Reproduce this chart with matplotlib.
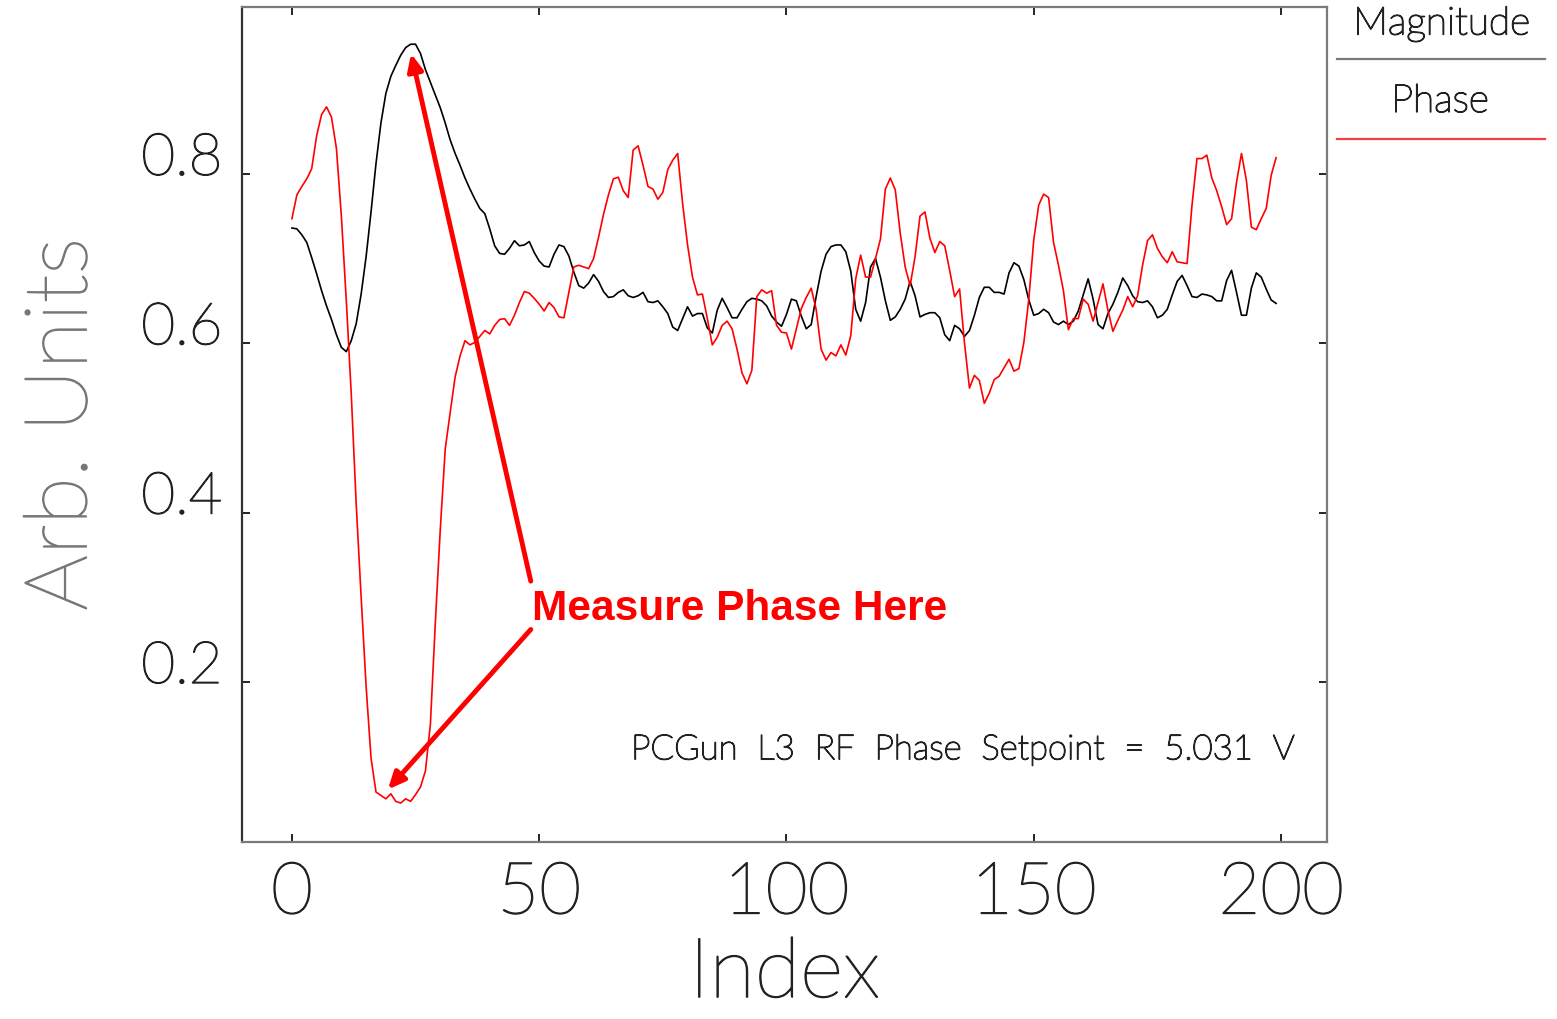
import matplotlib
matplotlib.use('Agg')
import matplotlib.pyplot as plt
import matplotlib.transforms as mtransforms
import matplotlib.patheffects as pe
from matplotlib.lines import Line2D
import numpy as np

# waveform samples from the scope trace
index = np.arange(200)

magnitude = [
    0.736, 0.735, 0.728, 0.719, 0.701, 0.682, 0.662, 0.644, 0.628, 0.610,
    0.595, 0.590, 0.603, 0.623, 0.658, 0.702, 0.755, 0.812, 0.860, 0.895,
    0.915, 0.928, 0.940, 0.949, 0.953, 0.953, 0.942, 0.923, 0.908, 0.893,
    0.878, 0.860, 0.840, 0.824, 0.810, 0.795, 0.782, 0.770, 0.759, 0.753,
    0.735, 0.715, 0.706, 0.705, 0.712, 0.721, 0.715, 0.716, 0.720, 0.707,
    0.697, 0.691, 0.690, 0.705, 0.716, 0.714, 0.703, 0.684, 0.668, 0.665,
    0.671, 0.681, 0.673, 0.661, 0.654, 0.655, 0.660, 0.663, 0.656, 0.654,
    0.656, 0.660, 0.649, 0.648, 0.650, 0.643, 0.635, 0.619, 0.615, 0.629,
    0.643, 0.632, 0.635, 0.635, 0.618, 0.612, 0.639, 0.653, 0.642, 0.630,
    0.630, 0.640, 0.649, 0.653, 0.652, 0.650, 0.644, 0.632, 0.625, 0.620,
    0.634, 0.652, 0.650, 0.632, 0.617, 0.622, 0.655, 0.685, 0.705, 0.714,
    0.716, 0.716, 0.708, 0.685, 0.640, 0.626, 0.648, 0.690, 0.700, 0.678,
    0.650, 0.627, 0.631, 0.640, 0.652, 0.673, 0.656, 0.631, 0.634, 0.636,
    0.636, 0.630, 0.610, 0.603, 0.621, 0.617, 0.608, 0.615, 0.633, 0.654,
    0.666, 0.666, 0.660, 0.660, 0.658, 0.683, 0.695, 0.691, 0.675, 0.651,
    0.633, 0.635, 0.640, 0.636, 0.625, 0.622, 0.626, 0.622, 0.626, 0.638,
    0.657, 0.676, 0.652, 0.622, 0.617, 0.635, 0.646, 0.660, 0.677, 0.668,
    0.656, 0.649, 0.648, 0.650, 0.643, 0.630, 0.633, 0.640, 0.657, 0.673,
    0.680, 0.668, 0.655, 0.654, 0.658, 0.657, 0.655, 0.650, 0.650, 0.674,
    0.686, 0.660, 0.633, 0.633, 0.665, 0.683, 0.678, 0.664, 0.651, 0.647,
]

phase = [
    0.747, 0.775, 0.785, 0.794, 0.806, 0.845, 0.870, 0.879, 0.867, 0.830,
    0.750, 0.650, 0.540, 0.410, 0.300, 0.195, 0.110, 0.070, 0.066, 0.062,
    0.068, 0.059, 0.057, 0.062, 0.059, 0.067, 0.076, 0.095, 0.150, 0.270,
    0.380, 0.475, 0.518, 0.560, 0.585, 0.603, 0.598, 0.601, 0.608, 0.615,
    0.611, 0.621, 0.628, 0.629, 0.621, 0.633, 0.648, 0.661, 0.659, 0.653,
    0.646, 0.638, 0.648, 0.642, 0.631, 0.630, 0.660, 0.690, 0.692, 0.690,
    0.688, 0.700, 0.725, 0.752, 0.775, 0.794, 0.796, 0.780, 0.772, 0.828,
    0.833, 0.810, 0.785, 0.782, 0.770, 0.778, 0.805, 0.816, 0.824, 0.765,
    0.716, 0.678, 0.657, 0.658, 0.629, 0.598, 0.607, 0.621, 0.626, 0.617,
    0.593, 0.565, 0.552, 0.568, 0.655, 0.663, 0.659, 0.662, 0.621, 0.613,
    0.612, 0.593, 0.617, 0.641, 0.654, 0.665, 0.640, 0.593, 0.580, 0.589,
    0.585, 0.598, 0.586, 0.609, 0.676, 0.704, 0.678, 0.678, 0.700, 0.723,
    0.782, 0.795, 0.781, 0.730, 0.690, 0.668, 0.702, 0.750, 0.755, 0.724,
    0.707, 0.720, 0.715, 0.686, 0.655, 0.664, 0.600, 0.547, 0.562, 0.556,
    0.529, 0.541, 0.557, 0.561, 0.571, 0.581, 0.567, 0.570, 0.601, 0.652,
    0.722, 0.763, 0.776, 0.772, 0.719, 0.692, 0.662, 0.616, 0.629, 0.629,
    0.652, 0.646, 0.626, 0.648, 0.670, 0.639, 0.614, 0.627, 0.639, 0.655,
    0.643, 0.656, 0.692, 0.721, 0.728, 0.712, 0.702, 0.695, 0.708, 0.696,
    0.695, 0.694, 0.763, 0.818, 0.818, 0.822, 0.795, 0.780, 0.761, 0.740,
    0.747, 0.790, 0.824, 0.792, 0.737, 0.734, 0.747, 0.759, 0.798, 0.819,
]

x_ticks = [0, 50, 100, 150, 200]
y_ticks = [0.2, 0.4, 0.6, 0.8]
setpoint_label = 'PCGun  L3  RF  Phase  Setpoint  =  5.031  V'

# light face with a hairline outline gives an even pen-plotter look
thin = dict(family='Lato', fontweight='light')
pen = [pe.withStroke(linewidth=1.0, foreground='#222222')]
pen_grey = [pe.withStroke(linewidth=1.0, foreground='#777777')]

fig = plt.figure(figsize=(15.57, 10.20), dpi=100)
ax = fig.add_axes([0.1554, 0.1735, 0.6969, 0.8187])

ax.plot(index, magnitude, color='black', lw=1.2)
ax.plot(index, phase, color='#ff0000', lw=1.2)

ax.set_xlim(-10.1, 209.3)
ax.set_ylim(0.011, 0.997)
ax.set_xticks(x_ticks)
ax.set_yticks(y_ticks)
ax.set_xticklabels([str(t) for t in x_ticks], fontsize=52, color='#222222', **thin)
ax.set_yticklabels([f'{t:.1f}' for t in y_ticks], fontsize=42, color='#222222', **thin)
ax.tick_params(direction='in', length=6, width=1.2, color='black',
               top=True, right=True, pad=14)
# y labels sit a little above their ticks
lift = mtransforms.ScaledTranslation(0, 20 / 100, fig.dpi_scale_trans)
for lbl in ax.get_yticklabels():
    lbl.set_transform(lbl.get_transform() + lift)
    lbl.set_path_effects(pen)
for lbl in ax.get_xticklabels():
    lbl.set_path_effects(pen)

for s in ax.spines.values():
    s.set_color('#7a7a7a')
    s.set_linewidth(1.6)
ax.spines['left'].set_color('#333333')

xl = ax.set_xlabel('Index', fontsize=60, color='#222222', labelpad=8, **thin)
xl.set_path_effects(pen)
yl = ax.set_ylabel('Arb. Units', fontsize=63, color='#777777', labelpad=28, **thin)
yl.set_path_effects(pen_grey)

ax.text(0.9705, 0.111, setpoint_label, transform=ax.transAxes, ha='right',
        va='center', fontsize=25, color='#222222', **thin, path_effects=pen)

# callout arrows pointing at the two phase extremes
arrow = dict(arrowstyle='-|>,head_length=1.0,head_width=0.45', color='#ff0000',
             lw=3.5, shrinkA=0, shrinkB=0)
ax.annotate('', xy=(24.1, 0.942), xytext=(48.3, 0.319), arrowprops=arrow)
ax.annotate('', xy=(19.4, 0.073), xytext=(48.3, 0.262), arrowprops=arrow)
ax.text(48.5, 0.287, 'Measure Phase Here', color='#ff0000', fontsize=30.5,
        fontweight='bold', family='Liberation Sans', ha='left', va='center')

# legend drawn outside the frame, top right
fig.text(0.926, 0.976, 'Magnitude', fontsize=28, ha='center', va='center',
         color='#222222', **thin, path_effects=pen)
fig.add_artist(Line2D([0.859, 0.992], [0.941, 0.941], color='#7a7a7a', lw=1.6,
                      transform=fig.transFigure))
fig.text(0.925, 0.900, 'Phase', fontsize=28, ha='center', va='center',
         color='#222222', **thin, path_effects=pen)
fig.add_artist(Line2D([0.859, 0.992], [0.863, 0.863], color='#f04040', lw=1.6,
                      transform=fig.transFigure))

fig.savefig('out.png', dpi=100)
